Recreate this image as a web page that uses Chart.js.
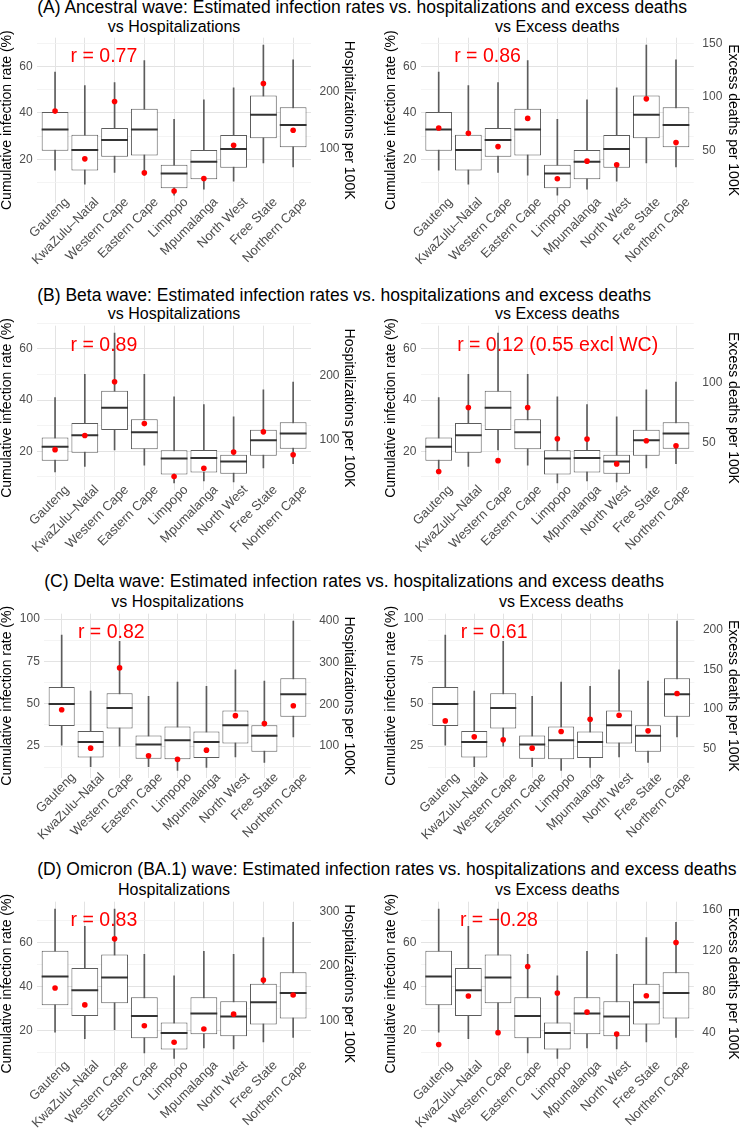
<!DOCTYPE html>
<html><head><meta charset="utf-8">
<script src="https://cdn.jsdelivr.net/npm/chart.js@4.4.0/dist/chart.umd.min.js"></script>
<style>
html,body{margin:0;padding:0;background:#fff;}
body{width:744px;height:1129px;position:relative;overflow:hidden;font-family:"Liberation Sans",Arial,Helvetica,sans-serif;}
canvas{position:absolute;}
.t{position:absolute;white-space:nowrap;line-height:1;color:#000;}
</style></head><body>
<script>
// ---------- DATA ----------
const provinces = ["Gauteng","KwaZulu–Natal","Western Cape","Eastern Cape","Limpopo","Mpumalanga","North West","Free State","Northern Cape"];

// (A) Ancestral wave – cumulative infection rate (%) box statistics
const rateMinA = [15.3, 9.2, 14.3, 13.1, 4.5, 7.1, 10.5, 18.4, 16.7];
const rateQ1A  = [23.7, 15.1, 21.1, 21.6, 7.4, 11.3, 16.3, 29.0, 25.2];
const rateMedA = [32.8, 24.0, 28.3, 32.8, 13.8, 18.9, 24.4, 39.2, 34.8];
const rateQ3A  = [40.4, 30.6, 33.5, 41.8, 17.6, 24.0, 30.5, 47.5, 42.5];
const rateMaxA = [57.6, 51.8, 53.1, 62.6, 37.2, 45.7, 50.8, 69.3, 62.9];
const hospA    = [166.5, 81.8, 183.5, 57.0, 24.7, 47.0, 105.9, 215.3, 132.4];
const deathsA  = [70.9, 65.9, 53.4, 80.0, 23.1, 39.7, 36.3, 98.4, 57.2];

// (B) Beta wave
const rateMinB = [12.0, 14.1, 20.6, 14.6, 7.7, 8.4, 8.1, 13.5, 15.2];
const rateQ1B  = [16.3, 19.5, 28.3, 20.8, 11.0, 11.7, 11.2, 18.3, 21.0];
const rateMedB = [21.8, 26.3, 37.0, 27.5, 17.2, 17.4, 16.0, 24.3, 27.0];
const rateQ3B  = [25.4, 31.1, 43.7, 32.5, 20.4, 20.5, 18.7, 28.4, 31.4];
const rateMaxB = [41.0, 50.1, 66.2, 50.1, 41.3, 38.3, 33.5, 44.0, 47.1];
const hospB    = [83.9, 106.3, 191.1, 125.0, 41.7, 54.7, 80.2, 112.0, 76.0];
const deathsB  = [26.5, 79.5, 35.5, 79.5, 53.6, 53.3, 32.8, 51.9, 47.8];

// (C) Delta wave
const rateMinC = [25.6, 12.9, 25.0, 12.9, 10.7, 12.5, 18.7, 15.4, 30.5];
const rateQ1C  = [36.9, 18.3, 35.4, 17.6, 17.2, 18.0, 26.6, 21.7, 42.4];
const rateMedC = [49.9, 27.5, 47.5, 26.0, 28.5, 27.5, 37.3, 31.1, 55.7];
const rateQ3C  = [59.9, 34.0, 56.3, 31.3, 36.6, 33.6, 46.0, 37.3, 65.1];
const rateMaxC = [90.6, 57.5, 86.9, 54.4, 62.8, 60.3, 70.0, 63.4, 98.8];
const hospC    = [187.3, 95.2, 287.3, 77.0, 68.3, 90.5, 173.0, 154.0, 196.8];
const deathsC  = [84.9, 64.7, 60.9, 50.4, 71.4, 87.0, 92.0, 72.3, 119.7];

// (D) Omicron (BA.1) wave
const rateMinD = [19.2, 16.2, 20.3, 9.7, 7.2, 12.0, 11.5, 14.7, 16.8];
const rateQ1D  = [31.5, 26.6, 32.4, 16.4, 11.2, 18.2, 17.3, 22.7, 25.4];
const rateMedD = [44.6, 38.3, 44.2, 26.5, 18.8, 27.7, 26.3, 32.8, 37.1];
const rateQ3D  = [56.4, 48.5, 54.7, 35.1, 23.6, 35.1, 33.3, 41.3, 46.6];
const rateMaxD = [75.4, 67.5, 75.4, 54.7, 44.9, 56.1, 54.7, 62.4, 69.4];
const hospD    = [159.4, 128.5, 249.7, 90.3, 60.0, 84.2, 111.5, 174.0, 146.7];
const deathsD  = [28.7, 76.0, 40.3, 104.7, 78.9, 60.3, 39.0, 76.3, 128.1];

// tick values
const rateTicks20 = [10, 20, 30, 40, 50, 60, 70];
const rateLabels20 = [20, 40, 60];
const rateTicks25 = [12.5, 25, 37.5, 50, 62.5, 75, 87.5, 100];
const rateLabels25 = [25, 50, 75, 100];
const hospTicksA = [100, 200];
const deathTicksA = [50, 100, 150];
const hospTicksB = [100, 200];
const deathTicksB = [50, 100];
const hospTicksC = [100, 200, 300, 400];
const deathTicksC = [50, 100, 150, 200];
const hospTicksD = [100, 200, 300];
const deathTicksD = [40, 80, 120, 160];

// ---------- LAYOUT / STYLE ----------
const FONT = "'Liberation Sans', Arial, Helvetica, sans-serif";
Chart.defaults.font.family = FONT;
Chart.defaults.animation = false;

const GRID_MAJOR = '#e3e3e3', GRID_MINOR = '#f1f1f1';
const BOX_COL = '#5c5c5c', MED_COL = '#333333', DOT_COL = '#ff0000';
const TICK_COL = '#4d4d4d';

const rows = [
  { title: '(A) Ancestral wave: Estimated infection rates vs. hospitalizations and excess deaths',
    titleBase: 14, subBase: 32.5, top: 36.94, bottom: 202.57, yMin: 1.26, yMax: 72.5,
    yTicks: rateTicks20, yMajor: rateLabels20,
    box: {min: rateMinA, q1: rateQ1A, med: rateMedA, q3: rateQ3A, max: rateMaxA},
    panels: [
      {sub: 'vs Hospitalizations', left: 37.2, right: 311.0, dots: hospA, y2Min: 4.3, y2Max: 296.6, y2Ticks: hospTicksA, y2Title: 'Hospitalizations per 100K', r: 'r = 0.77', rx: 1.642, ry: 64.4},
      {sub: 'vs Excess deaths', left: 420.9, right: 693.8, dots: deathsA, y2Min: 0.7, y2Max: 156.0, y2Ticks: deathTicksA, y2Title: 'Excess deaths per 100K', r: 'r = 0.86', rx: 1.645, ry: 64.4}
    ]},
  { title: '(B) Beta wave: Estimated infection rates vs. hospitalizations and excess deaths',
    titleBase: 301.7, subBase: 320, top: 324.16, bottom: 490.25, yMin: 4.8, yMax: 69.1,
    yTicks: rateTicks20, yMajor: rateLabels20,
    box: {min: rateMinB, q1: rateQ1B, med: rateMedB, q3: rateQ3B, max: rateMaxB},
    panels: [
      {sub: 'vs Hospitalizations', left: 37.2, right: 311.0, dots: hospB, y2Min: 19.9, y2Max: 279.4, y2Ticks: hospTicksB, y2Title: 'Hospitalizations per 100K', r: 'r = 0.89', rx: 1.642, ry: 61.3},
      {sub: 'vs Excess deaths', left: 420.9, right: 693.8, dots: deathsB, y2Min: 11.0, y2Max: 147.1, y2Ticks: deathTicksB, y2Title: 'Excess deaths per 100K', r: 'r = 0.12 (0.55 excl WC)', rx: 4.01, ry: 61.3}
    ]},
  { title: '(C) Delta wave: Estimated infection rates vs. hospitalizations and excess deaths',
    titleBase: 588.3, subBase: 607.7, top: 612.88, bottom: 777.83, yMin: 6.3, yMax: 103.2,
    yTicks: rateTicks25, yMajor: rateLabels25,
    box: {min: rateMinC, q1: rateQ1C, med: rateMedC, q3: rateQ3C, max: rateMaxC},
    panels: [
      {sub: 'vs Hospitalizations', left: 44.3, right: 310.7, dots: hospC, y2Min: 24.2, y2Max: 417.0, y2Ticks: hospTicksC, y2Title: 'Hospitalizations per 100K', r: 'r = 0.82', rx: 1.713, ry: 92.1},
      {sub: 'vs Excess deaths', left: 427.9, right: 694.4, dots: deathsC, y2Min: 12.8, y2Max: 220.7, y2Ticks: deathTicksC, y2Title: 'Excess deaths per 100K', r: 'r = 0.61', rx: 1.689, ry: 92.1}
    ]},
  { title: '(D) Omicron (BA.1) wave: Estimated infection rates vs. hospitalizations and excess deaths',
    titleBase: 875.7, subBase: 895.5, top: 900.15, bottom: 1065.78, yMin: 3.8, yMax: 78.8,
    yTicks: rateTicks20, yMajor: rateLabels20,
    box: {min: rateMinD, q1: rateQ1D, med: rateMedD, q3: rateQ3D, max: rateMaxD},
    panels: [
      {sub: 'Hospitalizations', left: 37.2, right: 311.0, dots: hospD, y2Min: 16.8, y2Max: 317.9, y2Ticks: hospTicksD, y2Title: 'Hospitalizations per 100K', r: 'r = 0.83', rx: 1.642, ry: 70.3},
      {sub: 'vs Excess deaths', left: 420.9, right: 693.8, dots: deathsD, y2Min: 8.0, y2Max: 167.9, y2Ticks: deathTicksD, y2Title: 'Excess deaths per 100K', r: 'r = \u22120.28', rx: 2.03, ry: 70.3}
    ]}
];

// ---------- helpers ----------
function addText(txt, size, left, baseline, center) {
  const d = document.createElement('div');
  d.className = 't';
  d.textContent = txt;
  d.style.fontSize = size + 'px';
  d.style.top = (baseline - 0.8465 * size) + 'px';
  d.style.left = left + 'px';
  if (center) d.style.transform = 'translateX(-50%)';
  document.body.appendChild(d);
}

const rAnnot = {
  id: 'rAnnot',
  afterDatasetsDraw(chart, args, opts) {
    const {ctx, scales} = chart;
    ctx.save();
    ctx.font = '19.5px ' + FONT;
    ctx.fillStyle = DOT_COL;
    ctx.textAlign = 'center';
    ctx.textBaseline = 'middle';
    ctx.fillText(opts.text, scales.x.getPixelForValue(opts.x), scales.y.getPixelForValue(opts.y));
    ctx.restore();
  }
};

const idx = provinces.map((_, i) => i);

rows.forEach((row, ri) => {
  addText(row.title, 17.5, row.panels[0].left, row.titleBase, false);
  const canvasTop = Math.floor(row.top) - 14;
  const canvasH = ri === rows.length - 1 ? 1129 - canvasTop : Math.ceil(row.bottom + 66) - canvasTop;

  row.panels.forEach((p, side) => {
    const cLeft = side * 372, cW = 372;
    addText(p.sub, 16, (p.left + p.right) / 2, row.subBase, true);
    const cv = document.createElement('canvas');
    cv.width = cW; cv.height = canvasH;
    cv.style.left = cLeft + 'px'; cv.style.top = canvasTop + 'px';
    cv.style.width = cW + 'px'; cv.style.height = canvasH + 'px';
    document.body.appendChild(cv);

    const yW = p.left - cLeft;
    const y2W = cLeft + cW - p.right;
    const xH = canvasH - (row.bottom - canvasTop);
    const b = row.box;

    new Chart(cv, {
      type: 'bar',
      data: {
        datasets: [
          { type: 'bar', label: 'whisker', data: idx.map(i => ({x: i, y: [b.min[i], b.max[i]]})),
            backgroundColor: BOX_COL, borderWidth: 0, barThickness: 1, grouped: false, order: 3 },
          { type: 'bar', label: 'box', data: idx.map(i => ({x: i, y: [b.q1[i], b.q3[i]]})),
            backgroundColor: '#ffffff', borderColor: BOX_COL, borderWidth: 1, borderSkipped: false,
            categoryPercentage: 1, barPercentage: 0.9, grouped: false, order: 2 },
          { type: 'line', label: 'median', data: idx.map(i => ({x: i, y: b.med[i]})),
            showLine: false, pointStyle: 'line', pointBorderColor: MED_COL, pointBorderWidth: 2,
            pointRadius: (c) => { const s = c.chart.scales.x; return s ? Math.abs(s.getPixelForValue(1) - s.getPixelForValue(0)) * 0.45 : 12; },
            order: 1 },
          { type: 'line', label: 'dots', data: idx.map(i => ({x: i, y: p.dots[i]})), yAxisID: 'y2',
            showLine: false, pointRadius: 2.8, pointBackgroundColor: DOT_COL, pointBorderWidth: 0, order: 0 }
        ]
      },
      options: {
        responsive: false, animation: false, events: [],
        layout: { padding: { top: row.top - canvasTop, left: 0, right: 0, bottom: 0 }, autoPadding: false },
        plugins: { legend: { display: false }, tooltip: { enabled: false },
                   rAnnot: { text: p.r, x: p.rx, y: p.ry } },
        scales: {
          x: { type: 'linear', min: -0.6, max: 8.6, offset: false,
               afterBuildTicks: s => { s.ticks = idx.map(i => ({value: i})); },
               afterFit: s => { s.height = xH; s._computeLabelArea = () => undefined; },
               grid: { display: true, offset: false, drawTicks: false, color: GRID_MAJOR, lineWidth: 1 },
               border: { display: false },
               ticks: { autoSkip: false, minRotation: 45, maxRotation: 45, padding: -8, labelOffset: 12,
                        color: TICK_COL, font: { size: 13 },
                        callback: v => provinces[Math.round(v)] } },
          y: { type: 'linear', position: 'left', min: row.yMin, max: row.yMax,
               afterBuildTicks: s => { s.ticks = row.yTicks.map(v => ({value: v})); },
               afterFit: s => { s.width = yW; },
               grid: { drawTicks: false,
                       color: c => row.yMajor.includes(c.tick.value) ? GRID_MAJOR : GRID_MINOR,
                       lineWidth: c => row.yMajor.includes(c.tick.value) ? 1.1 : 0.8 },
               border: { display: false },
               ticks: { padding: 4.5, color: TICK_COL, font: { size: 12 },
                        callback: v => row.yMajor.includes(v) ? String(v) : '' },
               title: { display: true, text: 'Cumulative infection rate (%)', color: '#000',
                        font: { size: 14, lineHeight: 1 }, padding: { top: side ? 12 : 0, bottom: 0 } } },
          y2: { type: 'linear', position: 'right', min: p.y2Min, max: p.y2Max,
                afterBuildTicks: s => { s.ticks = p.y2Ticks.map(v => ({value: v})); },
                afterFit: s => { s.width = y2W; },
                grid: { display: false, drawTicks: false },
                border: { display: false },
                ticks: { padding: 8.5, color: TICK_COL, font: { size: 12 }, callback: v => String(v) },
                title: { display: true, text: p.y2Title, color: '#000',
                         font: { size: 14, lineHeight: 1 }, padding: { top: side ? 4.2 : 15.8, bottom: 0 } } }
        }
      },
      plugins: [rAnnot]
    });
  });
});
</script>
</body></html>
